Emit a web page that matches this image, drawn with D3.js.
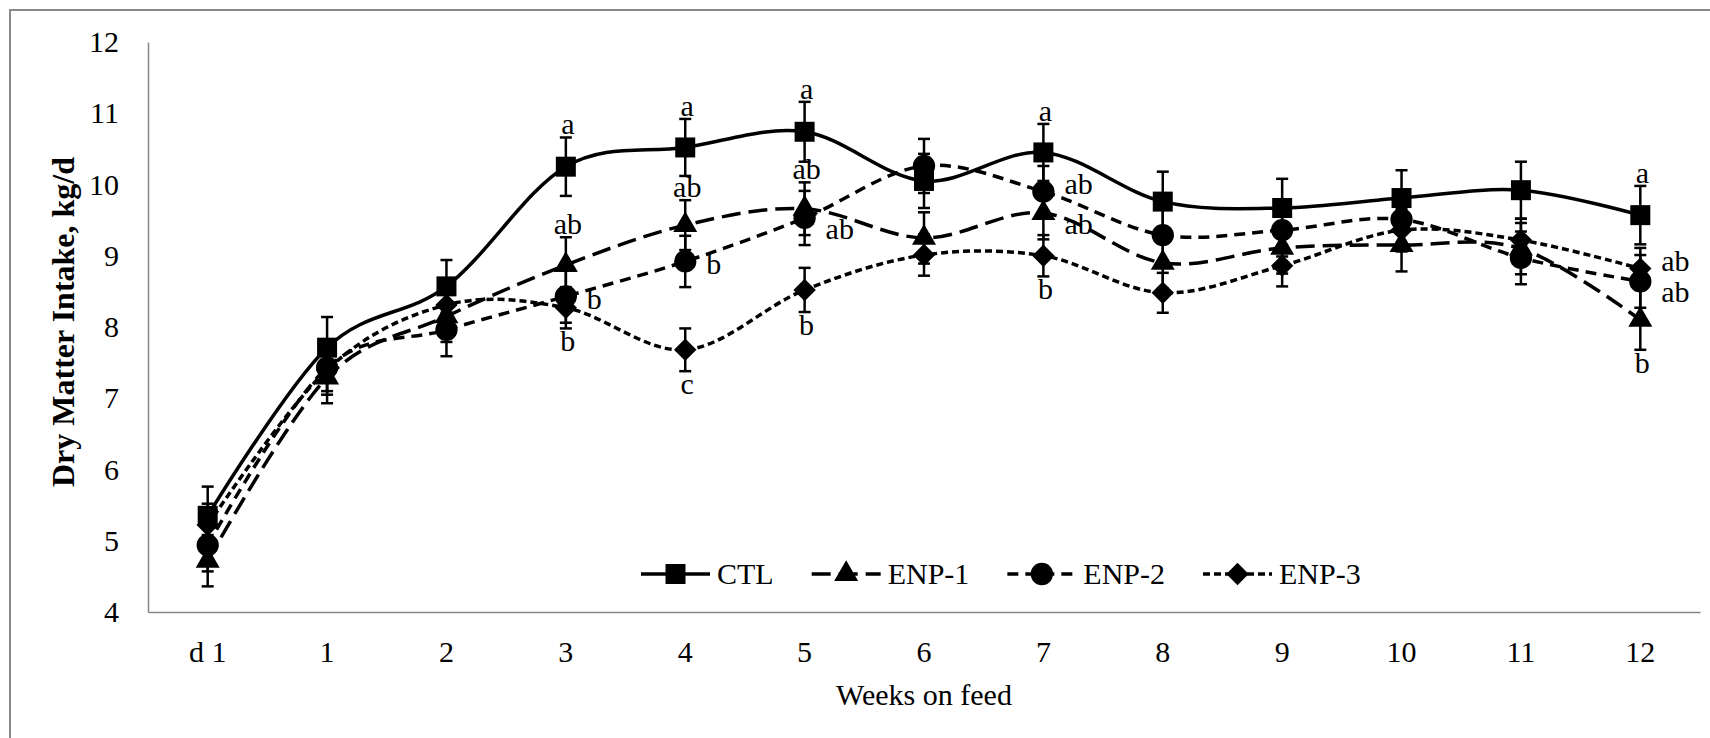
<!DOCTYPE html>
<html lang="en">
  <head>
    <meta charset="UTF-8" />
    <title>Dry Matter Intake by Week</title>
    <script src="https://d3js.org/d3.v7.min.js"></script>
    <style>
      body {
        margin: 0;
        background: #fff;
        font-family: 'Liberation Serif', 'Times New Roman', serif;
      }
      text {
        font-family: 'Liberation Serif', 'Times New Roman', serif;
        font-size: 30px;
        fill: #000;
      }
      .axis .domain {
        stroke: #868686;
        stroke-width: 1.5px;
      }
      .axis-title-y {
        font-weight: bold;
        font-size: 32px;
      }
    </style>
  </head>
  <body>
    <svg width="1710" height="738"></svg>

    <script>
      const categories = ['d 1', '1', '2', '3', '4', '5', '6', '7', '8', '9', '10', '11', '12'];
      const yTicks = [4, 5, 6, 7, 8, 9, 10, 11, 12];

      const seriesNames = ['CTL', 'ENP-1', 'ENP-2', 'ENP-3'];
      const ctl = [5.35, 7.71, 8.57, 10.25, 10.52, 10.74, 10.05, 10.45, 9.76, 9.67, 9.81, 9.92, 9.57];
      const enp1 = [4.72, 7.29, 8.15, 8.87, 9.43, 9.66, 9.25, 9.6, 8.9, 9.11, 9.15, 9.1, 8.1];
      const enp2 = [4.94, 7.43, 7.96, 8.43, 8.92, 9.53, 10.26, 9.9, 9.29, 9.36, 9.51, 8.97, 8.64];
      const enp3 = [5.22, 7.4, 8.31, 8.27, 7.68, 8.52, 9.01, 9.0, 8.48, 8.86, 9.36, 9.22, 8.82];

      // standard errors
      const ctlSem = [0.41, 0.43, 0.37, 0.41, 0.4, 0.42, 0.38, 0.4, 0.42, 0.41, 0.39, 0.4, 0.41];
      const enp1Sem = [0.36, 0.36, 0.36, 0.39, 0.35, 0.37, 0.36, 0.37, 0.36, 0.36, 0.37, 0.36, 0.42];
      const enp2Sem = [0.37, 0.38, 0.37, 0.37, 0.36, 0.38, 0.38, 0.36, 0.37, 0.37, 0.36, 0.37, 0.37];
      const enp3Sem = [0.3, 0.3, 0.29, 0.29, 0.3, 0.31, 0.29, 0.29, 0.28, 0.29, 0.3, 0.3, 0.29];

      // significance letters: week, series, letter, where
      const letters = [
        ['3', 'CTL', 'a', 'above'],
        ['3', 'ENP-1', 'ab', 'above'],
        ['3', 'ENP-2', 'b', 'right'],
        ['3', 'ENP-3', 'b', 'below'],
        ['4', 'CTL', 'a', 'above'],
        ['4', 'ENP-1', 'ab', 'above'],
        ['4', 'ENP-2', 'b', 'right'],
        ['4', 'ENP-3', 'c', 'below'],
        ['5', 'CTL', 'a', 'above'],
        ['5', 'ENP-1', 'ab', 'above'],
        ['5', 'ENP-2', 'ab', 'right-down'],
        ['5', 'ENP-3', 'b', 'below'],
        ['7', 'CTL', 'a', 'above'],
        ['7', 'ENP-2', 'ab', 'right-up'],
        ['7', 'ENP-1', 'ab', 'right-down'],
        ['7', 'ENP-3', 'b', 'below'],
        ['12', 'CTL', 'a', 'above'],
        ['12', 'ENP-3', 'ab', 'right-up'],
        ['12', 'ENP-2', 'ab', 'right-down'],
        ['12', 'ENP-1', 'b', 'below'],
      ];

      const series = [
        { name: 'CTL', values: ctl, sem: ctlSem, dash: null, shape: 'square' },
        { name: 'ENP-1', values: enp1, sem: enp1Sem, dash: '19,8', shape: 'triangle' },
        { name: 'ENP-2', values: enp2, sem: enp2Sem, dash: '11,7', shape: 'circle' },
        { name: 'ENP-3', values: enp3, sem: enp3Sem, dash: '7,4', shape: 'diamond' },
      ];

      const svg = d3.select('svg');

      // outer chart frame
      svg
        .append('rect')
        .attr('x', 10)
        .attr('y', 10)
        .attr('width', 1720)
        .attr('height', 760)
        .attr('fill', 'none')
        .attr('stroke', '#8a8a8a')
        .attr('stroke-width', 2);

      const x = d3.scaleBand().domain(categories).range([148, 1700]).padding(0);
      const cx = (c) => x(c) + x.bandwidth() / 2;
      const y = d3.scaleLinear().domain([4, 12]).range([612, 42]);

      svg
        .append('g')
        .attr('class', 'axis')
        .attr('transform', 'translate(0,612)')
        .call(d3.axisBottom(x).tickSize(0).tickPadding(29))
        .call((g) => g.selectAll('text').style('font-size', '30px'));

      svg
        .append('g')
        .attr('class', 'axis')
        .attr('transform', 'translate(148,0)')
        .call(d3.axisLeft(y).tickValues(yTicks).tickSize(0).tickPadding(29))
        .call((g) => g.selectAll('text').style('font-size', '30px'));

      svg.selectAll('.axis').attr('font-family', null);

      svg
        .append('text')
        .attr('x', 924)
        .attr('y', 705)
        .attr('text-anchor', 'middle')
        .text('Weeks on feed');

      svg
        .append('text')
        .attr('class', 'axis-title-y')
        .attr('transform', 'rotate(-90)')
        .attr('x', -322)
        .attr('y', 74)
        .attr('text-anchor', 'middle')
        .text('Dry Matter Intake, kg/d');

      const symbolPath = (shape) => {
        if (shape === 'square') return d3.symbol(d3.symbolSquare, 400)();
        if (shape === 'triangle') return d3.symbol(d3.symbolTriangle, 250)();
        if (shape === 'circle') return d3.symbol(d3.symbolCircle, 390)();
        return d3.symbol(d3.symbolSquare, 250)();
      };
      const symbolRotate = (shape) => (shape === 'diamond' ? ' rotate(45)' : '');

      // Error bars
      const cap = 6;
      series.forEach((s) => {
        const g = svg.append('g').attr('stroke', '#000').attr('stroke-width', 2.5);
        s.values.forEach((v, i) => {
          const px = cx(categories[i]);
          const top = y(v + s.sem[i]);
          const bot = y(v - s.sem[i]);
          g.append('line').attr('x1', px).attr('x2', px).attr('y1', top).attr('y2', bot);
          g.append('line').attr('x1', px - cap).attr('x2', px + cap).attr('y1', top).attr('y2', top);
          g.append('line').attr('x1', px - cap).attr('x2', px + cap).attr('y1', bot).attr('y2', bot);
        });
      });

      // Smoothed lines
      const line = d3
        .line()
        .x((d, i) => cx(categories[i]))
        .y((d) => y(d))
        .curve(d3.curveCardinal.tension(0));

      series.forEach((s) => {
        svg
          .append('path')
          .datum(s.values)
          .attr('fill', 'none')
          .attr('stroke', '#000')
          .attr('stroke-width', 3.5)
          .attr('stroke-dasharray', s.dash)
          .attr('d', line);
      });

      // Markers
      series.forEach((s) => {
        svg
          .append('g')
          .selectAll('path')
          .data(s.values)
          .enter()
          .append('path')
          .attr('d', symbolPath(s.shape))
          .attr('transform', (d, i) => `translate(${cx(categories[i])},${y(d)})${symbolRotate(s.shape)}`)
          .attr('fill', '#000');
      });

      // Significance letters
      const rightShift = { right: 13, 'right-up': 2, 'right-down': 21 };
      letters.forEach(([c, name, txt, where]) => {
        const s = series.find((d) => d.name === name);
        const i = categories.indexOf(c);
        const v = s.values[i];
        const px = cx(c);
        const t = svg.append('text').text(txt);
        if (where === 'above') {
          t.attr('x', px + 2).attr('y', y(v + s.sem[i]) - 3).attr('text-anchor', 'middle');
        } else if (where === 'below') {
          t.attr('x', px + 2).attr('y', y(v - s.sem[i]) + 23).attr('text-anchor', 'middle');
        } else {
          t.attr('x', px + 21).attr('y', y(v) + rightShift[where]).attr('text-anchor', 'start');
        }
      });

      // Legend
      const legend = svg.append('g').attr('transform', 'translate(641,574)');
      let lx = 0;
      series.forEach((s) => {
        const item = legend.append('g').attr('transform', `translate(${lx},0)`);
        item
          .append('line')
          .attr('x1', 0)
          .attr('x2', 69)
          .attr('stroke', '#000')
          .attr('stroke-width', 3.5)
          .attr('stroke-dasharray', s.dash);
        item
          .append('path')
          .attr('d', symbolPath(s.shape))
          .attr('transform', `translate(34.5,0)${symbolRotate(s.shape)}`)
          .attr('fill', '#000');
        const label = item.append('text').attr('x', 76).attr('y', 10).text(s.name);
        lx += 76 + label.node().getComputedTextLength() + 38;
      });
    </script>
  </body>
</html>
